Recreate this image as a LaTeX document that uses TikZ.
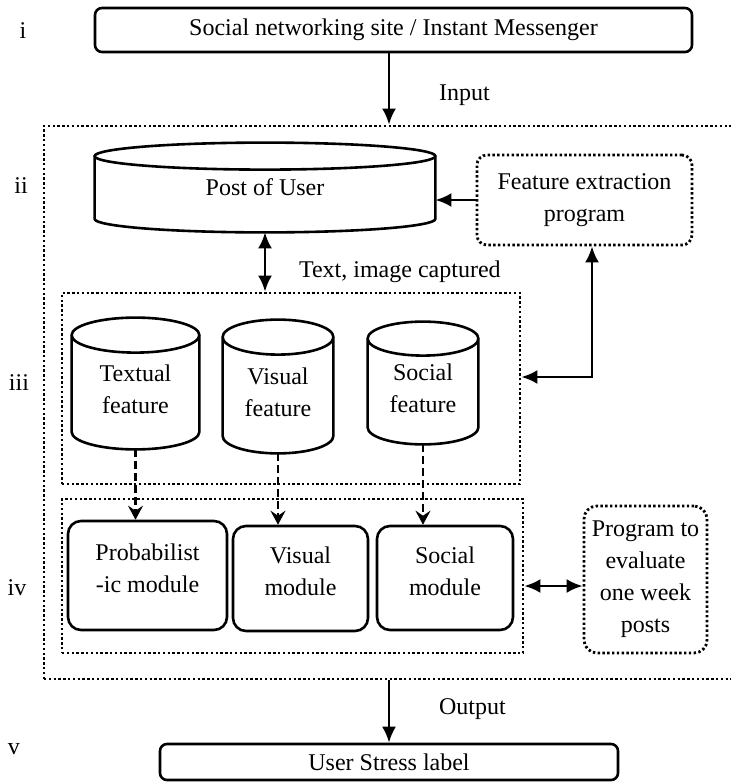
\documentclass[tikz,border=0pt]{standalone}
\usepackage{fontspec}
\setmainfont{Liberation Serif}
\usetikzlibrary{arrows.meta,calc}

\newcommand{\dbdrum}[2]{%
\draw[line width=1.3pt] let \p1=(#1.north west), \p2=(#1.south east), \n1={(\x2-\x1)/2} in
  (\x1,\y1-#2)--(\x1,\y2+#2) arc[start angle=180,end angle=360,x radius=\n1,y radius=#2]--(\x2,\y1-#2)
  (\x1+\n1,\y1-#2) ellipse[x radius=\n1,y radius=#2];}

\begin{document}
\begin{tikzpicture}[x=0.5pt,y=-0.5pt,>={Latex[length=8pt,width=7pt]},
  font=\fontsize{12}{16}\selectfont,
  rbox/.style={draw,line width=1.3pt,rounded corners=3.5pt,inner sep=0pt},
  mbox/.style={draw,line width=1.3pt,rounded corners=6.5pt,inner sep=0pt,align=center,text depth=7pt},
  dotgrp/.style={draw,line width=1.4pt,dash pattern=on 1.2pt off 1.2pt,inner sep=0pt},
  dotprog/.style={dotgrp,align=center},
  dbase/.style={inner sep=0pt,align=center,text height=30pt},
  link/.style={->,line width=1.3pt},
  dlink/.style={-{Stealth[length=7pt,width=7.5pt,inset=2.5pt]},line width=1.3pt,dash pattern=on 4pt off 2pt}]
\useasboundingbox (0,0) rectangle (731,782);
\clip (0,0) rectangle (731,782);

\foreach \lx/\ly/\lt in {23/31/i,21/186/ii,19/383/iii,17/588/iv,14/749/v}
  \node (lvl\lt) at (\lx,\ly) {\lt};

\node (src) at (393.5,30)[rbox,minimum width=298.5pt,minimum height=22pt]{Social networking site / Instant Messenger};
\node (sys) at (394.5,402.5)[dotgrp,minimum width=350.5pt,minimum height=276.5pt]{};
\node (out) at (389,762)[rbox,minimum width=229pt,minimum height=18pt]{User Stress label};

\node (post) at (265,187.5)[inner sep=0pt,minimum width=170pt,minimum height=44.5pt]{Post of User};
\node (fext) at (584.5,200)[dotprog,rounded corners=5pt,minimum width=107.5pt,minimum height=45pt]{Feature extraction\\program};

\node (featgrp) at (291,388.5)[dotgrp,minimum width=229pt,minimum height=95.5pt]{};
\node (tcyl) at (135.5,383.5)[dbase,minimum width=63.5pt,minimum height=65.5pt]{Textual\\feature};
\node (vcyl) at (278,386.5)[dbase,minimum width=55pt,minimum height=66.5pt]{Visual\\feature};
\node (scyl) at (423,383)[dbase,minimum width=55pt,minimum height=61pt]{Social\\feature};
\foreach \c/\r in {post/6.75pt,tcyl/8.75pt,vcyl/8.75pt,scyl/8.5pt}
  \dbdrum{\c}{\r};

\node (modgrp) at (292.5,576)[dotgrp,minimum width=230.5pt,minimum height=77pt]{};
\node (pmod) at (147.5,575.5)[mbox,minimum width=79.5pt,minimum height=54.5pt]{Probabilist\\-ic module};
\node (vmod) at (300.5,578.5)[mbox,minimum width=67.5pt,minimum height=52.5pt]{Visual\\module};
\node (smod) at (445,578)[mbox,minimum width=68pt,minimum height=52pt]{Social\\module};
\node (prog) at (645.5,579.5)[dotprog,rounded corners=6.5pt,minimum width=61.5pt,minimum height=73.5pt]{Program to\\evaluate\\one week\\posts};

\draw[link] (src.south -| out.north)--(out.north |- sys.north);
\node (inlab) at (432,95)[anchor=west]{Input};
\draw[link] (fext.west)--(fext.west -| post.east);
\draw[link,<->] (post.south)--(post.south |- featgrp.north);
\node (caplab) at (292,272)[anchor=west]{Text, image captured};
\coordinate (fcorner) at (592,377);
\draw[link,<->] (featgrp.east |- fcorner)--(fcorner)--(fcorner |- fext.south);
\foreach \a/\b in {tcyl/pmod,vcyl/vmod,scyl/smod}
  \draw[dlink] (\a.south)--(\a.south |- \b.north);
\coordinate (plink) at (553,586);
\draw[link,<->] (plink -| modgrp.east)--(plink -| prog.west);
\draw[link] (out.north |- sys.south)--(out.north);
\node (outlab) at (432,709)[anchor=west]{Output};

\end{tikzpicture}
\end{document}
